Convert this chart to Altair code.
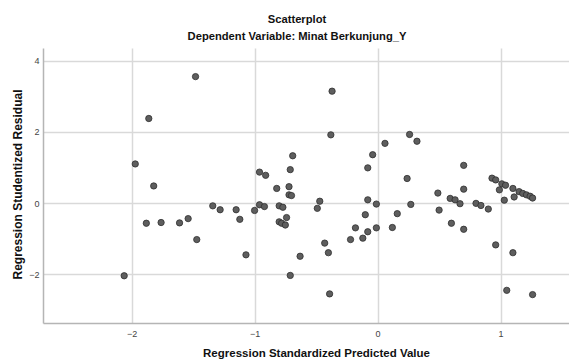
import altair as alt
import pandas as pd

pred = [-1.48, -1.86, -1.97, -1.82, -1.88, -1.76, -1.61, -1.54, -1.47, -1.34,
        -1.28, -2.06, -1.15, -1.12, -1.07, -1.00, -0.96, -0.92, -0.72, -0.70,
        -0.80, -0.77, -0.80, -0.78, -0.75, -0.74, -0.63, -0.71, -0.49, -0.47,
        -0.43, -0.40, -0.39, -0.08, -0.01, -0.10, -0.18, -0.08, -0.12, -0.22,
        -0.01, 0.12, 0.16, -0.37, -0.38, 0.06, -0.04, -0.08, -0.69, -0.71,
        -0.96, -0.91, -0.82, -0.72, 0.26, 0.32, 0.70, 0.24, 0.49, 0.70,
        0.59, 0.63, 0.93, 0.96, 1.01, 1.04, 0.99, 1.10, 1.15, 1.18,
        1.21, 1.24, 1.26, 1.11, 1.03, 0.67, 0.80, 0.84, 0.90, 0.27,
        0.50, 0.60, 0.70, 0.96, 1.10, 1.05, 1.26]
resid = [3.56, 2.38, 1.10, 0.48, -0.57, -0.55, -0.56, -0.44, -1.03, -0.08,
         -0.19, -2.05, -0.19, -0.46, -1.46, -0.21, -0.05, -0.10, 0.23, 0.21,
         -0.08, -0.12, -0.53, -0.57, -0.62, -0.41, -1.50, -2.04, -0.15, 0.05,
         -1.13, -1.40, -2.56, 0.09, -0.03, -0.33, -0.70, -0.81, -0.99, -1.03,
         -0.70, -0.69, -0.30, 3.15, 1.92, 1.68, 1.36, 0.99, 1.33, 0.94,
         0.87, 0.78, 0.41, 0.46, 1.93, 1.74, 1.06, 0.69, 0.28, 0.39,
         0.13, 0.09, 0.70, 0.65, 0.54, 0.50, 0.37, 0.41, 0.32, 0.27,
         0.23, 0.19, 0.14, 0.17, 0.08, -0.02, -0.01, -0.07, -0.17, -0.04,
         -0.20, -0.57, -0.74, -1.18, -1.40, -2.46, -2.58]

x_ticks = [-2, -1, 0, 1]
y_ticks = [-2, 0, 2, 4]

df = pd.DataFrame({"pred": pred, "resid": resid})

FONT = "Liberation Sans"

chart = alt.Chart(df).mark_circle(
    size=40, color="#5e5e5e", stroke="#2e2e2e", strokeWidth=0.8, opacity=1
).encode(
    x=alt.X("pred:Q",
            scale=alt.Scale(domain=[-2.72, 1.556], nice=False, zero=False),
            axis=alt.Axis(values=x_ticks, title="Regression Standardized Predicted Value",
                          titleX=273, titleY=33, titleBaseline="alphabetic",
                          titleFontSize=11.5, labelPadding=6)),
    y=alt.Y("resid:Q",
            scale=alt.Scale(domain=[-3.38, 4.366], nice=False, zero=False),
            axis=alt.Axis(values=y_ticks, title="Regression Studentized Residual",
                          titleX=-26, titleY=136, titleAngle=-90,
                          titleBaseline="middle", titleAlign="center",
                          labelPadding=4)),
).properties(
    width=526, height=275,
    title=alt.TitleParams(text="Scatterplot",
                          subtitle="Dependent Variable: Minat Berkunjung_Y",
                          anchor="middle", dx=-9, offset=6,
                          font=FONT, fontSize=11.2, fontWeight="bold", color="#111",
                          subtitleFont=FONT, subtitleFontSize=11.2,
                          subtitleFontWeight="bold", subtitleColor="#111",
                          subtitlePadding=6),
    autosize=alt.AutoSizeParams(type="none"),
    padding={"left": 35, "top": 40, "right": 0, "bottom": 37},
).configure_axis(
    grid=True, gridColor="#d9d9d9", gridWidth=1.5,
    domainColor="#b5b5b5", domainWidth=1.5,
    ticks=False,
    labelFont=FONT, labelFontSize=9, labelColor="#444",
    titleFont=FONT, titleFontSize=12, titleFontWeight="bold", titleColor="#111",
).configure_view(stroke=None)

chart.save("out.html", embed_options={"renderer": "svg", "actions": False})
